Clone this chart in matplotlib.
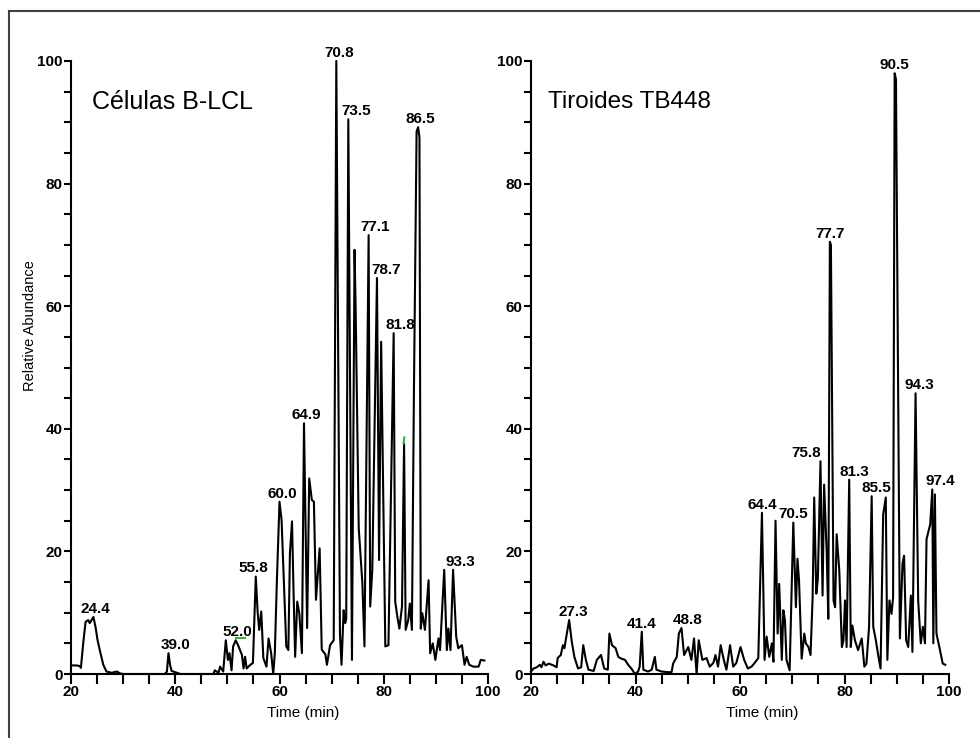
import matplotlib
matplotlib.use("Agg")
import matplotlib.pyplot as plt
from matplotlib.lines import Line2D
from matplotlib.ticker import MultipleLocator
import numpy as np

plt.rcParams['font.family'] = ['Liberation Sans', 'DejaVu Sans']

# panel titles
title_left = "Células B-LCL"
title_right = "Tiroides TB448"

# chromatogram, left panel (time in min, relative abundance)
t_left = [20.0, 21.0, 21.7, 21.9, 22.4, 22.8, 23.3, 23.6, 24.3, 24.7, 25.1, 25.6, 26.2, 26.8,
          27.8, 28.8, 29.4, 30.0, 38.0, 38.4, 38.7, 39.0, 39.3, 40.3, 41.0, 47.3, 47.6, 48.3,
          48.6, 49.2, 49.7, 50.1, 50.4, 50.8, 51.1, 51.6, 52.1, 52.8, 53.1, 53.4, 53.7, 54.4,
          54.9, 55.45, 55.8, 56.1, 56.5, 56.9, 57.5, 57.9, 58.4, 58.8, 59.1, 59.5, 60.0, 60.4,
          60.9, 61.3, 61.7, 62.0, 62.4, 62.7, 63.0, 63.4, 63.8, 64.3, 64.7, 65.3, 65.7, 66.2,
          66.6, 67.0, 67.7, 68.1, 68.8, 69.1, 69.7, 70.4, 70.9, 71.6, 71.9, 72.3, 72.6, 72.8,
          73.2, 73.9, 74.4, 74.6, 75.2, 75.9, 76.3, 77.1, 77.4, 77.8, 78.7, 79.1, 79.5, 80.3,
          80.9, 81.9, 82.2, 82.6, 83.0, 83.5, 83.9, 84.2, 84.7, 85.0, 85.4, 85.8, 86.3, 86.6,
          86.85, 87.1, 87.4, 87.9, 88.6, 88.9, 89.4, 89.9, 90.5, 90.8, 91.6, 92.1, 92.4, 92.8,
          93.3, 93.9, 94.3, 95.0, 95.5, 95.9, 96.4, 97.2, 98.2, 98.6, 99.3]
y_left = [1.4, 1.4, 1.3, 1.0, 5.5, 8.5, 8.8, 8.3, 9.3, 7.7, 5.5, 3.6, 1.5, 0.4,
          0.2, 0.4, 0.1, 0.0, 0.0, 0.4, 3.4, 1.5, 0.5, 0.2, 0.0, 0.0, 0.6, 0.2,
          1.2, 0.4, 5.5, 2.3, 3.4, 0.6, 4.5, 5.5, 4.6, 3.1, 0.9, 2.8, 0.9, 1.5,
          1.8, 15.9, 10.2, 7.2, 10.2, 2.6, 1.2, 5.8, 3.4, 0.0, 3.4, 15.3, 28.1, 25.1,
          13.7, 4.5, 3.9, 19.7, 24.9, 13.2, 2.8, 11.8, 9.9, 3.4, 40.9, 7.5, 31.9, 28.4,
          28.1, 12.1, 20.5, 4.0, 3.2, 1.5, 4.7, 5.5, 100.0, 6.5, 1.5, 10.4, 8.3, 9.0,
          90.5, 2.3, 69.2, 60.0, 23.8, 14.8, 4.5, 71.6, 11.0, 17.0, 64.6, 18.6, 54.2, 4.5,
          4.7, 55.6, 11.8, 9.4, 7.4, 11.0, 37.6, 7.2, 8.8, 11.5, 7.2, 47.0, 88.5, 89.2,
          87.5, 7.4, 9.9, 7.2, 15.3, 3.4, 5.0, 2.3, 5.8, 3.9, 17.0, 3.9, 7.4, 3.9,
          17.0, 6.1, 4.2, 4.7, 1.5, 2.8, 1.5, 1.2, 1.2, 2.3, 2.2]

# chromatogram, right panel
t_right = [20.0, 20.5, 21.1, 21.7, 22.0, 22.4, 22.8, 23.4, 24.3, 24.9, 25.1, 25.7, 26.1, 26.4,
           26.7, 27.3, 27.8, 28.3, 29.0, 29.6, 30.0, 30.5, 31.0, 32.0, 32.6, 33.4, 34.0, 34.7,
           35.0, 35.5, 36.2, 36.7, 37.3, 38.0, 38.6, 39.2, 39.9, 40.5, 40.8, 41.2, 41.5, 42.4,
           43.1, 43.7, 44.0, 45.0, 46.3, 46.9, 47.2, 47.9, 48.3, 48.8, 49.3, 50.1, 50.7, 51.2,
           51.7, 52.1, 52.8, 53.6, 54.2, 54.9, 55.3, 55.8, 56.3, 56.9, 57.4, 58.1, 58.7, 59.3,
           60.1, 60.8, 61.5, 62.2, 62.8, 63.5, 64.2, 64.7, 65.1, 65.6, 66.1, 66.4, 66.8, 67.2,
           67.5, 68.0, 68.3, 68.6, 68.9, 69.5, 69.9, 70.2, 70.7, 71.0, 71.3, 71.8, 72.3, 72.6,
           73.1, 73.5, 73.9, 74.2, 74.6, 74.9, 75.4, 75.8, 76.1, 76.6, 76.9, 77.2, 77.4, 77.9,
           78.2, 78.5, 79.0, 79.5, 79.8, 80.1, 80.4, 80.9, 81.2, 81.5, 82.0, 82.6, 83.3, 83.8,
           84.2, 84.7, 85.2, 85.5, 86.0, 86.5, 86.9, 87.4, 87.9, 88.2, 88.6, 89.0, 89.3, 89.6,
           89.85, 90.6, 91.1, 91.4, 91.8, 92.2, 92.7, 93.0, 93.6, 94.1, 94.6, 95.0, 95.4, 95.7,
           96.4, 96.8, 97.0, 97.3, 97.6, 98.2, 98.8, 99.3]
y_right = [0.4, 0.9, 1.1, 1.5, 1.1, 2.0, 1.4, 1.7, 1.4, 1.1, 2.6, 3.1, 4.7, 4.2,
           5.8, 8.8, 5.3, 2.8, 0.9, 1.1, 4.7, 2.3, 0.7, 0.5, 2.3, 3.1, 0.9, 0.7,
           6.6, 4.7, 4.2, 2.8, 2.5, 2.3, 1.5, 0.9, 0.0, 0.4, 1.2, 6.9, 0.7, 0.4,
           0.7, 2.8, 0.7, 0.4, 0.3, 0.3, 1.7, 2.8, 6.6, 7.5, 3.1, 4.4, 2.3, 5.8,
           0.0, 5.5, 2.3, 2.6, 1.2, 1.8, 3.1, 1.2, 4.7, 2.3, 0.7, 4.7, 1.2, 1.8,
           4.4, 2.3, 0.9, 1.2, 1.8, 2.6, 26.3, 2.3, 6.1, 2.8, 5.0, 2.0, 25.0, 6.6,
           14.7, 2.3, 10.4, 8.8, 2.3, 0.6, 14.2, 24.7, 10.9, 18.8, 15.2, 2.5, 6.6, 5.0,
           4.4, 3.1, 12.5, 28.8, 13.1, 15.5, 34.7, 12.8, 30.9, 19.6, 9.0, 70.5, 70.0, 12.0,
           10.9, 22.8, 16.9, 4.4, 5.5, 12.0, 4.4, 31.7, 4.4, 7.9, 5.5, 3.9, 5.8, 1.2,
           1.7, 7.7, 29.0, 7.7, 5.5, 2.8, 0.9, 26.0, 28.8, 2.3, 12.0, 9.8, 12.5, 98.0,
           97.0, 5.8, 18.0, 19.3, 5.5, 4.4, 12.8, 3.6, 45.8, 12.0, 5.0, 7.7, 5.0, 22.0,
           24.4, 30.1, 5.0, 29.3, 6.6, 4.2, 1.7, 1.5]

# peak labels
labels_left = ["24.4", "39.0", "52.0", "55.8", "60.0", "64.9", "70.8", "73.5", "77.1",
               "78.7", "81.8", "86.5", "93.3"]
labels_right = ["27.3", "41.4", "48.8", "64.4", "70.5", "75.8", "77.7", "81.3", "85.5",
                "90.5", "94.3", "97.4"]

# small green marks in the original scan
green_left = [([51.6, 53.4], [5.9, 5.9]), ([83.8, 83.95], [37.6, 38.6])]

# horizontal shift of each peak label (points)
shift_left = [1.5, 5, 1.5, -2, 2, 2, 2, 5.5, 5, 6.5, 4.5, 1.5, 5]
shift_right = [3, 0, 4.5, 0, 0, -10, 0, 3.5, 3.5, 0, 3, 5.5]

fig = plt.figure(figsize=(9.8, 7.38), dpi=100)
axL = fig.add_axes([71 / 980, 1 - 674 / 738, 417 / 980, 613 / 738])
axR = fig.add_axes([531 / 980, 1 - 674 / 738, 418 / 980, 613 / 738])


def draw_panel(ax, t, y, labels, shifts):
    t = np.array(t)
    y = np.array(y)
    ax.plot(t, y, color='black', lw=1.5, clip_on=False)
    ax.set_xlim(20, 100)
    ax.set_ylim(0, 100)
    for s in ['top', 'right']:
        ax.spines[s].set_visible(False)
    for s in ['left', 'bottom']:
        ax.spines[s].set_linewidth(1.5)
    ax.xaxis.set_major_locator(MultipleLocator(20))
    ax.xaxis.set_minor_locator(MultipleLocator(5))
    ax.yaxis.set_major_locator(MultipleLocator(20))
    ax.yaxis.set_minor_locator(MultipleLocator(5))
    ax.tick_params(axis='x', which='both', direction='out', length=7, width=1.5, pad=1)
    ax.tick_params(axis='y', which='both', direction='out', length=5, width=1.5, pad=1)
    for lab in ax.get_xticklabels() + ax.get_yticklabels():
        lab.set_fontsize(11)
        lab.set_fontweight('bold')
    ax.set_facecolor('none')
    for lab, dx in zip(labels, shifts):
        c = float(lab)
        m = (t >= c - 1.0) & (t <= c + 1.0)
        i = np.where(m)[0][np.argmax(y[m])]
        ax.annotate(lab, (t[i], y[i]), xytext=(dx, 3), textcoords='offset points',
                    ha='center', va='baseline', fontsize=11, fontweight='bold',
                    annotation_clip=False)


draw_panel(axL, t_left, y_left, labels_left, shift_left)
draw_panel(axR, t_right, y_right, labels_right, shift_right)

for gx, gy in green_left:
    axL.plot(gx, gy, color='#3cb043', lw=1.5)

axL.set_ylabel("Relative Abundance", fontsize=10.5)
axL.yaxis.set_label_coords(-0.082, 0.569)
axL.set_xlabel("Time (min)", fontsize=11)
axL.xaxis.set_label_coords(0.556, -0.053)
axR.set_xlabel("Time (min)", fontsize=11)
axR.xaxis.set_label_coords(0.553, -0.053)

fig.text(92 / 980, 1 - 102 / 738, title_left, fontsize=18, ha='left', va='center')
fig.text(548 / 980, 1 - 102 / 738, title_right, fontsize=17.5, ha='left', va='center')

# frame of the scanned figure
fig.add_artist(Line2D([9 / 980, 1], [1 - 11 / 738, 1 - 11 / 738], color='#404040', lw=1.5))
fig.add_artist(Line2D([9 / 980, 9 / 980], [0, 1 - 11 / 738], color='#404040', lw=1.5))

fig.savefig("out.png", dpi=100)
